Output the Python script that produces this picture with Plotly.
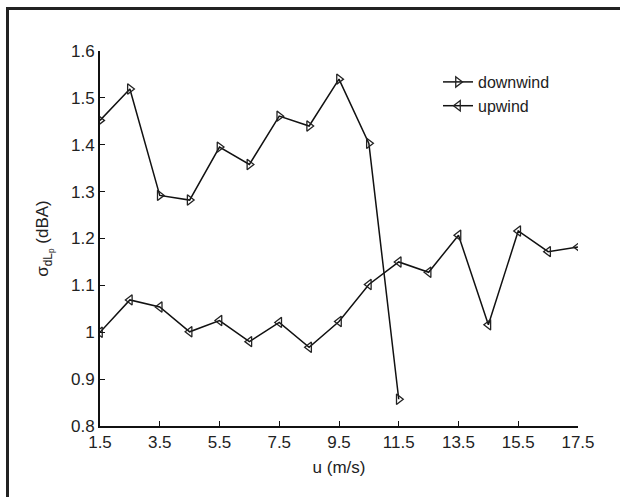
import plotly.graph_objects as go

# Wind speed (m/s)
u_down = [1.5, 2.5, 3.5, 4.5, 5.5, 6.5, 7.5, 8.5, 9.5, 10.5, 11.5]
u_up = [1.5, 2.5, 3.5, 4.5, 5.5, 6.5, 7.5, 8.5, 9.5, 10.5, 11.5,
        12.5, 13.5, 14.5, 15.5, 16.5, 17.5]

# Standard deviation of level difference (dBA)
sigma_down = [1.452, 1.519, 1.292, 1.282, 1.395, 1.358, 1.461, 1.440,
              1.540, 1.403, 0.857]
sigma_up = [1.000, 1.069, 1.054, 1.001, 1.025, 0.980, 1.021, 0.968,
            1.023, 1.102, 1.150, 1.128, 1.207, 1.016, 1.216, 1.172, 1.182]

x_ticks = [1.5, 3.5, 5.5, 7.5, 9.5, 11.5, 13.5, 15.5, 17.5]
y_ticks = [0.8, 0.9, 1.0, 1.1, 1.2, 1.3, 1.4, 1.5, 1.6]
y_tick_text = ["0.8", "0.9", "1", "1.1", "1.2", "1.3", "1.4", "1.5", "1.6"]

W, H = 620, 497
ML, MR, MT, MB = 100, 42, 51, 71

fig = go.Figure()
fig.add_trace(go.Scatter(
    x=u_down, y=sigma_down, mode="lines+markers", name="downwind",
    line=dict(color="#111111", width=1.5),
    marker=dict(symbol="triangle-right-open", size=9,
                color="#222222", line=dict(width=1.3)),
))
fig.add_trace(go.Scatter(
    x=u_up, y=sigma_up, mode="lines+markers", name="upwind",
    line=dict(color="#111111", width=1.5),
    marker=dict(symbol="triangle-left-open", size=9,
                color="#222222", line=dict(width=1.3)),
))

pw = W - ML - MR
ph = H - MT - MB


def px_to_paper_x(px):
    return (px - ML) / pw


def py_to_paper_y(py):
    return (H - MB - py) / ph


# Outer frame: left and top edges
fig.add_shape(type="line", xref="paper", yref="paper",
              x0=px_to_paper_x(7.5), x1=px_to_paper_x(7.5),
              y0=py_to_paper_y(H + 5), y1=py_to_paper_y(8.5),
              line=dict(color="#222222", width=3))
fig.add_shape(type="line", xref="paper", yref="paper",
              x0=px_to_paper_x(6), x1=px_to_paper_x(W + 5),
              y0=py_to_paper_y(8.5), y1=py_to_paper_y(8.5),
              line=dict(color="#222222", width=3))

font = dict(family="Liberation Sans, Arial, sans-serif", size=17, color="#222222")
legend_font = dict(family="Liberation Sans, Arial, sans-serif", size=16, color="#222222")

fig.update_layout(
    width=W, height=H,
    margin=dict(l=ML, r=MR, t=MT, b=MB),
    paper_bgcolor="white", plot_bgcolor="white",
    font=font,
    showlegend=True,
    legend=dict(x=px_to_paper_x(438), y=py_to_paper_y(65), xanchor="left",
                yanchor="top", bgcolor="rgba(0,0,0,0)", font=legend_font,
                tracegroupgap=0, itemwidth=30),
    xaxis=dict(
        range=[1.5, 17.5], tickvals=x_ticks, ticktext=[str(t) for t in x_ticks],
        ticks="inside", ticklen=5, tickwidth=1.2, tickcolor="#111111",
        showline=True, linecolor="#111111", linewidth=2, mirror=False,
        showgrid=False, zeroline=False,
        title=dict(text="u (m/s)", standoff=10, font=font),
    ),
    yaxis=dict(
        range=[0.8, 1.6], tickvals=y_ticks, ticktext=y_tick_text,
        ticks="inside", ticklen=5, tickwidth=1.2, tickcolor="#111111",
        showline=True, linecolor="#111111", linewidth=2, mirror=False,
        showgrid=False, zeroline=False,
        title=dict(text="σ<sub>dL<sub>p</sub></sub> (dBA)", standoff=18, font=font),
    ),
)

fig.write_html("out.html")
